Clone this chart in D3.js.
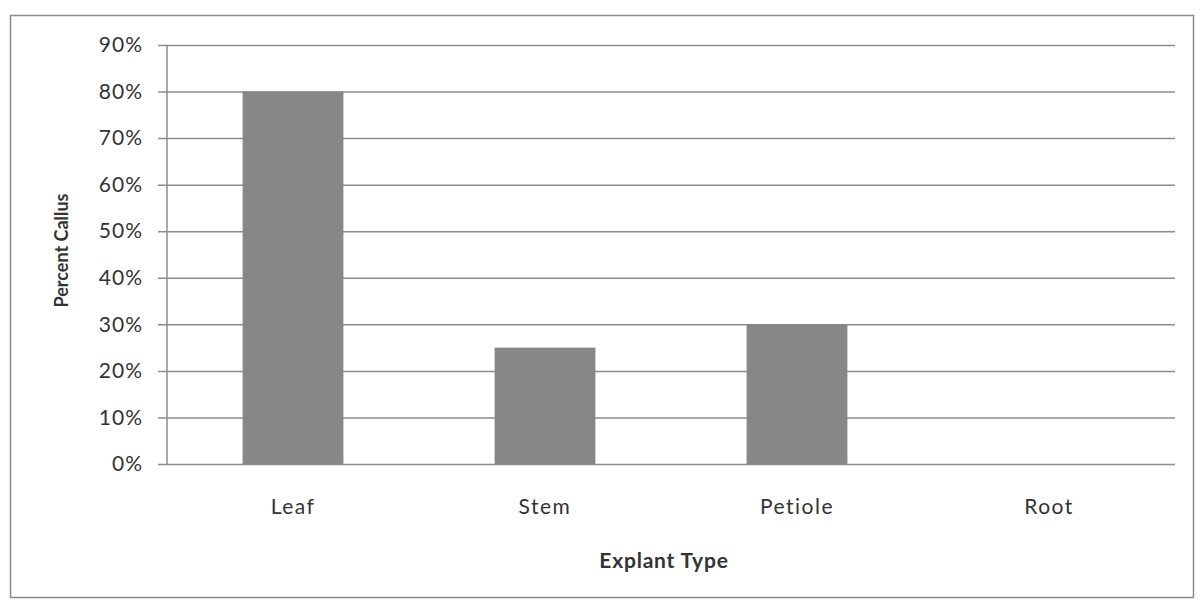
<!DOCTYPE html>
<html>
<head>
<meta charset="utf-8">
<script src="https://cdn.jsdelivr.net/npm/d3@7"></script>
<style>
  body { margin: 0; background: #fff; }
  text { font-family: Lato, "Open Sans", sans-serif; fill: #333; }
</style>
</head>
<body>
<div id="chart"></div>
<script>
// data
const categories = ['Leaf', 'Stem', 'Petiole', 'Root'];
const callusValues = [0.80, 0.25, 0.30, 0];
const yTicks = [0, 0.1, 0.2, 0.3, 0.4, 0.5, 0.6, 0.7, 0.8, 0.9];

const svgWidth = 1202, svgHeight = 601;
const margin = { top: 45, right: 27, bottom: 137, left: 167 };
const width = svgWidth - margin.left - margin.right,
  height = svgHeight - margin.top - margin.bottom;

const svg = d3.select('#chart').append('svg')
  .attr('width', svgWidth)
  .attr('height', svgHeight);

// outer chart border
svg.append('rect')
  .attr('x', 10.5).attr('y', 15.5)
  .attr('width', 1183).attr('height', 582)
  .attr('fill', 'none')
  .attr('stroke', '#8a8a8a')
  .attr('stroke-width', 1.5);

const g = svg.append('g')
  .attr('transform', 'translate(' + margin.left + ',' + margin.top + ')');

const x = d3.scaleBand()
  .domain(categories)
  .range([0, width])
  .paddingInner(0.6)
  .paddingOuter(0.3);

const y = d3.scaleLinear()
  .domain([0, 0.9])
  .range([height, 0]);

// gridlines + ticks
const yAxis = g.append('g')
  .call(d3.axisLeft(y).tickValues(yTicks).tickFormat(d3.format('.0%')).tickSize(-width).tickPadding(24));
yAxis.select('.domain').remove();
yAxis.selectAll('.tick line')
  .attr('x1', -9)
  .attr('stroke', '#8c8c8c')
  .attr('stroke-width', 1.5);
yAxis.selectAll('.tick text')
  .attr('font-size', 21)
  .attr('letter-spacing', 1)
  .attr('fill', '#333');

// vertical axis line
g.append('line')
  .attr('x1', 0).attr('x2', 0)
  .attr('y1', 0).attr('y2', height)
  .attr('stroke', '#8c8c8c')
  .attr('stroke-width', 1.5);

g.selectAll('.bar')
  .data(categories.map((c, i) => ({ name: c, value: callusValues[i] })))
  .enter().append('rect')
  .attr('class', 'bar')
  .attr('x', d => x(d.name))
  .attr('y', d => y(d.value))
  .attr('width', x.bandwidth())
  .attr('height', d => height - y(d.value))
  .attr('fill', '#878787');

// category labels
g.selectAll('.cat')
  .data(categories)
  .enter().append('text')
  .attr('class', 'cat')
  .attr('x', d => x(d) + x.bandwidth() / 2)
  .attr('y', height + 50)
  .attr('text-anchor', 'middle')
  .attr('font-size', 21)
  .attr('letter-spacing', 1.5)
  .text(d => d);

g.append('text')
  .attr('x', width / 2 - 7)
  .attr('y', height + 104)
  .attr('text-anchor', 'middle')
  .attr('font-size', 21)
  .attr('letter-spacing', 0.8)
  .attr('font-weight', 'bold')
  .text('Explant Type');

g.append('text')
  .attr('transform', 'translate(' + (-99) + ',' + (height / 2 - 4) + ') rotate(-90)')
  .attr('text-anchor', 'middle')
  .attr('font-size', 18)
  .attr('font-weight', 'bold')
  .text('Percent Callus');
</script>
</body>
</html>
